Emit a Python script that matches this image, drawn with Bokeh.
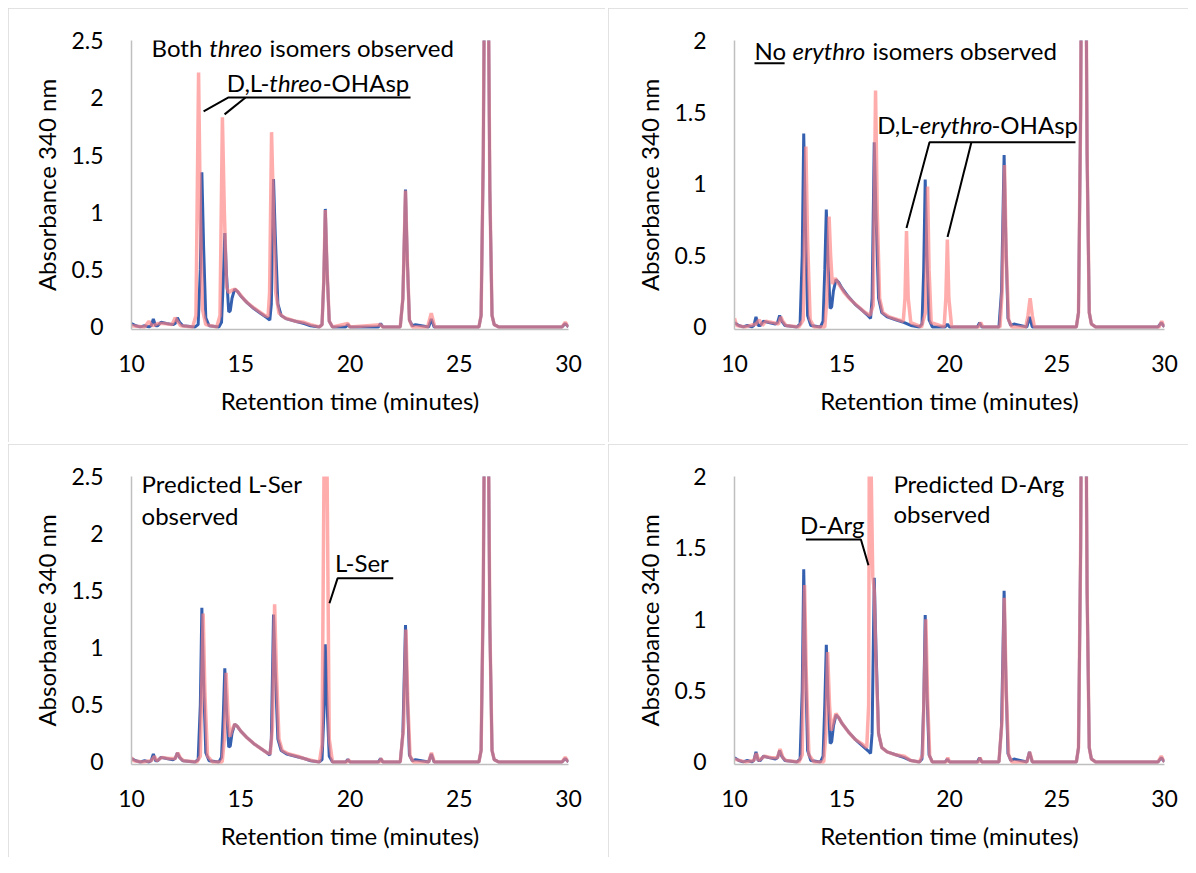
from bokeh.plotting import figure
from bokeh.layouts import column, row
from bokeh.models import Range1d, FixedTicker, NumeralTickFormatter, Label
from bokeh.embed import file_html
from bokeh.resources import INLINE

FONT = "Lato"

x_ticks = [10, 15, 20, 25, 30]
y_ticks_25 = [0, 0.5, 1, 1.5, 2, 2.5]
y_ticks_20 = [0, 0.5, 1, 1.5, 2]
x_label = "Retention time (minutes)"
y_label = "Absorbance 340 nm"

# Standard mixture (blue), shared by all four panels
std_time = [10.0, 10.2, 10.4, 10.6, 10.8, 10.9, 11.0, 11.1, 11.2, 11.35, 11.6, 11.9, 12.0, 12.1, 12.2, 12.35,
            12.9, 13.05, 13.15, 13.22, 13.3, 13.4, 13.55, 14.0, 14.12, 14.2, 14.27, 14.35, 14.45, 14.52,
            14.6, 14.72, 14.85, 15.0, 15.3, 15.6, 15.9, 16.2, 16.33, 16.4, 16.5, 16.58, 16.7, 16.85, 17.1,
            17.5, 17.9, 18.2, 18.6, 18.72, 18.8, 18.87, 18.95, 19.05, 19.2, 19.8, 19.9, 20.0, 21.3, 21.4,
            21.5, 22.3, 22.42, 22.54, 22.62, 22.72, 22.85, 23.0, 23.6, 23.72, 23.85, 25.9, 26.0, 26.1,
            26.17, 26.24, 26.31, 26.4, 26.5, 26.6, 26.8, 29.7, 29.85, 29.95, 30.0]
std_abs = [0.03, 0.01, 0.0, 0.01, 0.0, 0.01, 0.07, 0.01, 0.01, 0.04, 0.03, 0.02, 0.03, 0.08, 0.04, 0.01,
           0.0, 0.02, 0.5, 1.35, 0.7, 0.08, 0.01, 0.0, 0.04, 0.4, 0.82, 0.45, 0.13, 0.14,
           0.25, 0.33, 0.31, 0.27, 0.21, 0.16, 0.12, 0.08, 0.06, 0.2, 1.29, 0.8, 0.2, 0.1, 0.07,
           0.05, 0.03, 0.01, 0.0, 0.02, 0.4, 1.03, 0.5, 0.05, 0.0, 0.0, 0.02, 0.0, 0.0, 0.03,
           0.0, 0.0, 0.25, 1.2, 0.6, 0.06, 0.01, 0.02, 0.0, 0.07, 0.0, 0.0, 0.1, 1.5,
           3.5, 5.0, 3.5, 1.2, 0.1, 0.02, 0.0, 0.0, 0.03, 0.01, 0.0]

# Sample traces (pink)
threo_time = [10.0, 10.6, 10.8, 10.9, 11.0, 11.2, 11.5, 11.85, 12.0, 12.1, 12.25, 12.8, 12.95, 13.07, 13.15,
              13.25, 13.4, 13.9, 14.05, 14.16, 14.25, 14.35, 14.45, 14.6, 14.75, 14.9, 15.2, 15.5, 15.8,
              16.1, 16.25, 16.32, 16.41, 16.5, 16.6, 16.75, 17.0, 17.5, 17.9, 18.2, 18.6, 18.72, 18.8,
              18.87, 18.95, 19.05, 19.2, 19.9, 20.0, 21.4, 21.5, 22.3, 22.42, 22.54, 22.62, 22.72, 22.85,
              23.55, 23.72, 23.88, 25.9, 26.0, 26.1, 26.17, 26.24, 26.31, 26.4, 26.5, 26.6, 26.8, 29.7,
              29.85, 30.0]
threo_abs = [0.01, 0.0, 0.05, 0.02, 0.01, 0.03, 0.03, 0.02, 0.08, 0.05, 0.01, 0.0, 0.1, 2.22, 1.0,
             0.15, 0.02, 0.0, 0.1, 1.83, 1.0, 0.35, 0.3, 0.32, 0.33, 0.3, 0.23, 0.18, 0.14,
             0.1, 0.09, 0.3, 1.7, 1.0, 0.3, 0.12, 0.08, 0.05, 0.04, 0.02, 0.0, 0.02, 0.4,
             1.02, 0.5, 0.05, 0.0, 0.03, 0.0, 0.02, 0.0, 0.0, 0.25, 1.19, 0.6, 0.06, 0.0,
             0.0, 0.12, 0.0, 0.0, 0.1, 1.5, 3.5, 5.0, 3.5, 1.2, 0.1, 0.02, 0.0, 0.0,
             0.04, 0.0]

erythro_time = [10.0, 10.1, 10.5, 11.0, 11.15, 11.3, 11.45, 11.8, 12.05, 12.15, 12.25, 12.4, 13.0, 13.2,
                13.32, 13.4, 13.52, 13.7, 14.2, 14.3, 14.4, 14.47, 14.55, 14.68, 14.85, 15.1, 15.4, 15.7,
                16.0, 16.3, 16.45, 16.56, 16.64, 16.75, 16.9, 17.2, 17.6, 17.85, 17.93, 18.0, 18.08, 18.2,
                18.7, 18.88, 18.98, 19.05, 19.15, 19.75, 19.83, 19.9, 19.97, 20.1, 21.35, 21.45, 21.55,
                22.35, 22.45, 22.56, 22.64, 22.75, 22.9, 23.55, 23.65, 23.75, 23.85, 23.95, 25.9, 26.0,
                26.1, 26.17, 26.24, 26.31, 26.4, 26.5, 26.6, 26.8, 29.75, 29.87, 30.0]
erythro_abs = [0.06, 0.01, 0.0, 0.02, 0.05, 0.01, 0.04, 0.03, 0.02, 0.07, 0.04, 0.01, 0.0, 0.05,
               1.26, 0.6, 0.05, 0.0, 0.0, 0.2, 0.77, 0.5, 0.3, 0.34, 0.3, 0.24, 0.19, 0.15,
               0.11, 0.08, 0.15, 1.65, 0.8, 0.2, 0.1, 0.07, 0.05, 0.04, 0.2, 0.67, 0.2, 0.03,
               0.0, 0.1, 0.98, 0.4, 0.03, 0.0, 0.2, 0.61, 0.2, 0.0, 0.0, 0.03, 0.0,
               0.0, 0.25, 1.13, 0.5, 0.05, 0.0, 0.0, 0.08, 0.2, 0.08, 0.0, 0.0, 0.1,
               1.5, 3.5, 5.0, 3.5, 1.2, 0.1, 0.02, 0.0, 0.0, 0.04, 0.0]

lser_time = [10.0, 10.1, 10.5, 10.9, 11.05, 11.15, 11.4, 11.7, 12.0, 12.12, 12.25, 12.4, 13.0, 13.15, 13.28,
             13.36, 13.48, 13.7, 14.15, 14.25, 14.33, 14.42, 14.5, 14.6, 14.72, 14.85, 15.0, 15.3, 15.6,
             15.9, 16.2, 16.35, 16.45, 16.55, 16.63, 16.75, 16.9, 17.2, 17.6, 17.9, 18.3, 18.6, 18.72,
             18.82, 18.88, 18.94, 19.05, 19.2, 19.85, 19.92, 20.0, 21.35, 21.42, 21.5, 22.3, 22.45, 22.56,
             22.65, 22.75, 22.9, 23.6, 23.73, 23.86, 25.9, 26.0, 26.1, 26.17, 26.24, 26.31, 26.4, 26.5,
             26.6, 26.8, 29.7, 29.85, 30.0]
lser_abs = [0.04, 0.01, 0.0, 0.01, 0.05, 0.01, 0.04, 0.03, 0.03, 0.08, 0.03, 0.01, 0.0, 0.05, 1.3,
            0.6, 0.05, 0.0, 0.0, 0.2, 0.78, 0.4, 0.22, 0.28, 0.33, 0.31, 0.27, 0.21, 0.16,
            0.12, 0.08, 0.07, 0.3, 1.38, 0.8, 0.2, 0.1, 0.07, 0.05, 0.03, 0.01, 0.0, 0.15,
            2.8, 5.0, 2.8, 0.2, 0.0, 0.0, 0.02, 0.0, 0.0, 0.03, 0.0, 0.0, 0.3, 1.16,
            0.5, 0.05, 0.0, 0.0, 0.08, 0.0, 0.0, 0.1, 1.5, 3.5, 5.0, 3.5, 1.2, 0.1,
            0.02, 0.0, 0.0, 0.04, 0.0]

darg_time = [10.0, 10.5, 10.9, 11.02, 11.12, 11.4, 11.7, 12.0, 12.12, 12.25, 12.4, 13.0, 13.15, 13.26, 13.34,
             13.46, 13.7, 14.15, 14.25, 14.33, 14.42, 14.5, 14.6, 14.72, 14.85, 15.0, 15.3, 15.6, 15.9,
             16.15, 16.24, 16.3, 16.36, 16.43, 16.5, 16.58, 16.7, 16.85, 17.1, 17.5, 17.9, 18.2, 18.6, 18.75,
             18.9, 18.98, 19.08, 19.2, 19.85, 19.92, 20.0, 21.35, 21.42, 21.5, 22.3, 22.45, 22.55, 22.64,
             22.75, 22.9, 23.6, 23.73, 23.86, 25.9, 26.0, 26.1, 26.17, 26.24, 26.31, 26.4, 26.5, 26.6,
             26.8, 29.7, 29.85, 30.0]
darg_abs = [0.02, 0.0, 0.01, 0.06, 0.01, 0.04, 0.03, 0.03, 0.09, 0.03, 0.01, 0.0, 0.05, 1.24, 0.6,
            0.05, 0.0, 0.0, 0.2, 0.77, 0.4, 0.22, 0.28, 0.34, 0.31, 0.27, 0.21, 0.16, 0.13,
            0.1, 0.4, 4.0, 2.0, 1.3, 1.2, 0.7, 0.2, 0.1, 0.07, 0.05, 0.04, 0.01, 0.0, 0.05,
            1.0, 0.45, 0.04, 0.0, 0.0, 0.03, 0.0, 0.0, 0.03, 0.0, 0.0, 0.3, 1.15, 0.5,
            0.05, 0.0, 0.0, 0.07, 0.0, 0.0, 0.1, 1.5, 3.5, 5.0, 3.5, 1.2, 0.1, 0.02,
            0.0, 0.0, 0.04, 0.0]

BLUE = "#3560b0"
PINK = "#ff8080"
GRAY = "#d9d9d9"


def make_panel(width, height, left, right, top, bottom, ymax, yticks, sample_t, sample_a):
    p = figure(width=width, height=height, output_backend="svg", toolbar_location=None,
               x_range=Range1d(10, 30), y_range=Range1d(-0.009 * ymax, ymax),
               min_border_left=left, min_border_right=right, min_border_top=top,
               min_border_bottom=bottom,
               styles={"outline": "2px solid " + GRAY, "outline-offset": "-2px"})
    p.grid.visible = False
    p.outline_line_color = None
    p.background_fill_color = "white"
    p.border_fill_color = "white"
    for ax in (p.xaxis[0], p.yaxis[0]):
        ax.axis_line_color = "#bfbfbf"
        ax.axis_line_width = 1.5
        ax.major_tick_line_color = None
        ax.minor_tick_line_color = None
        ax.major_label_text_font = FONT
        ax.major_label_text_font_size = "23px"
        ax.major_label_text_color = "#000000"
        ax.axis_label_text_font = FONT
        ax.axis_label_text_font_size = "24px"
        ax.axis_label_text_font_style = "normal"
        ax.axis_label_text_color = "#000000"
    p.xaxis.ticker = FixedTicker(ticks=x_ticks)
    p.yaxis.ticker = FixedTicker(ticks=yticks)
    p.yaxis.formatter = NumeralTickFormatter(format="0.[0]")
    p.xaxis.axis_label = x_label
    p.yaxis.axis_label = y_label
    p.xaxis.major_label_standoff = 19
    p.xaxis.axis_label_standoff = 11
    p.yaxis.major_label_standoff = 22
    p.yaxis.axis_label_standoff = 7
    p.line(std_time, std_abs, line_color=BLUE, line_width=3)
    p.line(sample_t, sample_a, line_color=PINK, line_width=3.5, line_alpha=0.65)
    return p


def add_text(p, x, y, text, italic=False, align="left"):
    p.add_layout(Label(x=x, y=y, text=text, text_font=FONT, text_font_size="24px",
                       text_font_style="italic" if italic else "normal",
                       text_baseline="middle", text_align=align, text_color="black"))


def add_leader(p, xs, ys):
    p.line(xs, ys, line_color="black", line_width=2)


p1 = make_panel(597, 434, 123, 37, 32, 112, 2.5, y_ticks_25, threo_time, threo_abs)
p2 = make_panel(580, 434, 126, 24, 29, 113, 2.0, y_ticks_20, erythro_time, erythro_abs)
p3 = make_panel(597, 413, 123, 37, 32, 93, 2.5, y_ticks_25, lser_time, lser_abs)
p4 = make_panel(580, 413, 126, 24, 32, 93, 2.0, y_ticks_20, darg_time, darg_abs)

# Panel 1 annotations
add_text(p1, 10.92, 2.44, "Both")
add_text(p1, 13.56, 2.44, "threo", italic=True)
add_text(p1, 16.32, 2.44, "isomers observed")
add_text(p1, 16.31, 2.135, "D,L-", align="right")
add_text(p1, 16.31, 2.135, "threo", italic=True)
add_text(p1, 18.75, 2.135, "-OHAsp")
add_leader(p1, [13.30, 14.44, 22.77], [1.882, 2.003, 2.003])
add_leader(p1, [14.26, 15.22], [1.855, 2.003])

# Panel 2 annotations
add_text(p2, 10.93, 1.931, "No")
add_leader(p2, [10.93, 12.33], [1.841, 1.841])
add_text(p2, 12.70, 1.931, "erythro", italic=True)
add_text(p2, 16.42, 1.931, "isomers observed")
add_text(p2, 18.62, 1.415, "D,L-", align="right")
add_text(p2, 18.62, 1.415, "erythro", italic=True)
add_text(p2, 21.95, 1.415, "-OHAsp")
add_leader(p2, [18.0, 19.07, 25.86], [0.69, 1.29, 1.29])
add_leader(p2, [19.91, 21.02], [0.628, 1.29])

# Panel 3 annotations
add_text(p3, 10.46, 2.439, "Predicted L-Ser")
add_text(p3, 10.46, 2.159, "observed")
add_text(p3, 19.31, 1.75, "L-Ser")
add_leader(p3, [19.06, 19.43, 21.98], [1.39, 1.608, 1.608])

# Panel 4 annotations
add_text(p4, 17.39, 1.951, "Predicted D-Arg")
add_text(p4, 17.39, 1.741, "observed")
add_text(p4, 13.05, 1.667, "D-Arg")
add_leader(p4, [13.32, 15.88, 16.23], [1.559, 1.559, 1.378])

layout = column(row(p1, p2, spacing=3), row(p3, p4, spacing=3), spacing=2,
                margin=(8, 0, 0, 8))

open("out.html", "w").write(file_html(layout, INLINE))
